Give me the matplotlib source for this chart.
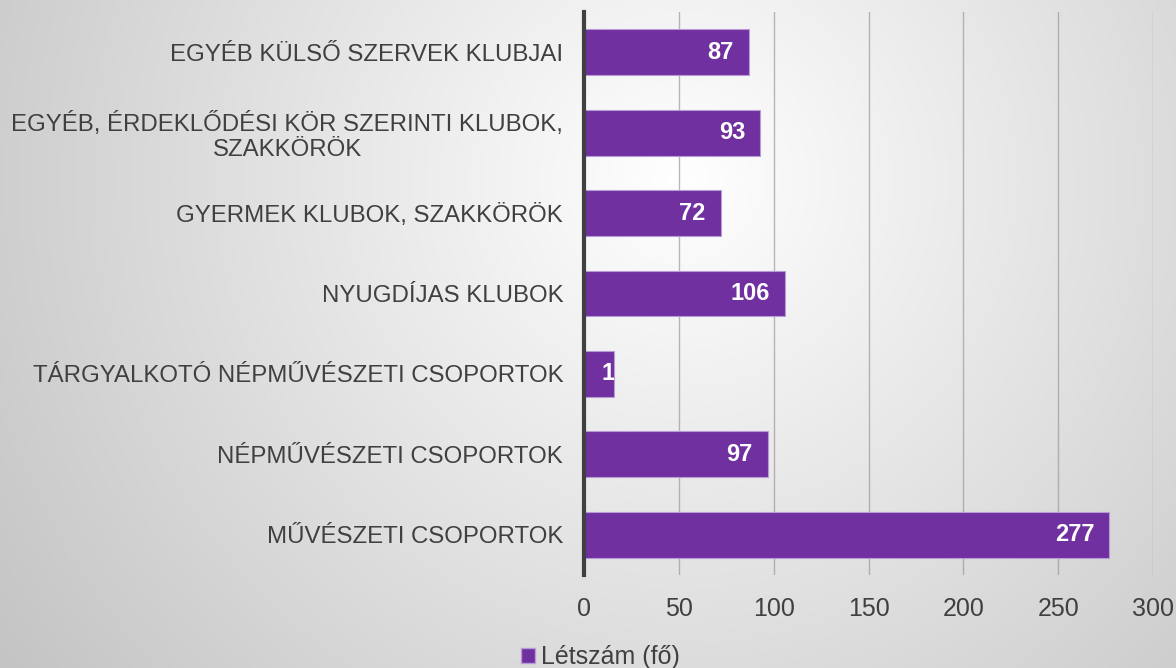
import numpy as np
import matplotlib.pyplot as plt
from matplotlib.patches import Patch

plt.rcParams['font.family'] = ['Liberation Sans', 'DejaVu Sans']

categories = ['EGYÉB KÜLSŐ SZERVEK KLUBJAI',
              'EGYÉB, ÉRDEKLŐDÉSI KÖR SZERINTI KLUBOK,\nSZAKKÖRÖK',
              'GYERMEK KLUBOK, SZAKKÖRÖK',
              'NYUGDÍJAS KLUBOK',
              'TÁRGYALKOTÓ NÉPMŰVÉSZETI CSOPORTOK',
              'NÉPMŰVÉSZETI CSOPORTOK',
              'MŰVÉSZETI CSOPORTOK']
values = [87, 93, 72, 106, 16, 97, 277]
xticks = [0, 50, 100, 150, 200, 250, 300]
series_name = 'Létszám (fő)'

purple = '#7030a0'
txt = '#404040'

fig = plt.figure(figsize=(11.76, 6.68), dpi=100)

# radial grey background
bg = fig.add_axes([0, 0, 1, 1], zorder=-10)
xx, yy = np.meshgrid(np.arange(1176), np.arange(668))
d = np.sqrt((xx - 680) ** 2 + (yy - 180) ** 2)
g = np.clip(255 - 0.071 * d, 0, 255) / 255
bg.imshow(np.dstack([g, g, g]), aspect='auto', extent=[0, 1, 0, 1], origin='upper')
bg.axis('off')

ax = fig.add_axes([584 / 1176, 1 - 575 / 668, 569 / 1176, 563 / 668])
ax.set_facecolor('none')
y = np.arange(len(categories))
bars = ax.barh(y, values, height=0.57, color=purple, edgecolor='#b89ad6', linewidth=0.8, zorder=3)
ax.set_ylim(len(categories) - 0.5, -0.5)
ax.set_xlim(0, 300)
ax.set_yticks(y)
ax.set_yticklabels(categories, fontsize=17.3, color=txt, linespacing=1.15, multialignment='center')
ax.set_xticks(xticks)
ax.set_xticklabels([str(t) for t in xticks], fontsize=18, color=txt)
ax.tick_params(axis='both', length=0)
ax.tick_params(axis='y', pad=15)
ax.tick_params(axis='x', pad=16)
ax.grid(axis='x', color='#9a9a9a', linewidth=1, alpha=0.7, zorder=0)
for s in ['top', 'right', 'bottom']:
    ax.spines[s].set_visible(False)
ax.spines['left'].set_color('#404040')
ax.spines['left'].set_linewidth(3)
ax.spines['left'].set_zorder(4)

for b, v in zip(bars, values):
    yc = b.get_y() + b.get_height() / 2
    if v > 40:
        ax.text(v - 8, yc, str(v), ha='right', va='center', color='white',
                fontsize=17, fontweight='bold', zorder=5)
    else:
        # label does not fit: centred on the bar end and cut off by the bar
        t = ax.text(v, yc, str(v), ha='center', va='center', color='white',
                    fontsize=17, fontweight='bold', zorder=5, clip_on=True)
        t.set_clip_path(b)

fig.legend(handles=[Patch(facecolor=purple, edgecolor='#b89ad6')], labels=[series_name],
           loc='center', bbox_to_anchor=(0.511, 0.016), frameon=False, fontsize=18,
           handlelength=0.55, handleheight=0.55, handletextpad=0.25, labelcolor=txt)

fig.savefig('out.png', dpi=100)
